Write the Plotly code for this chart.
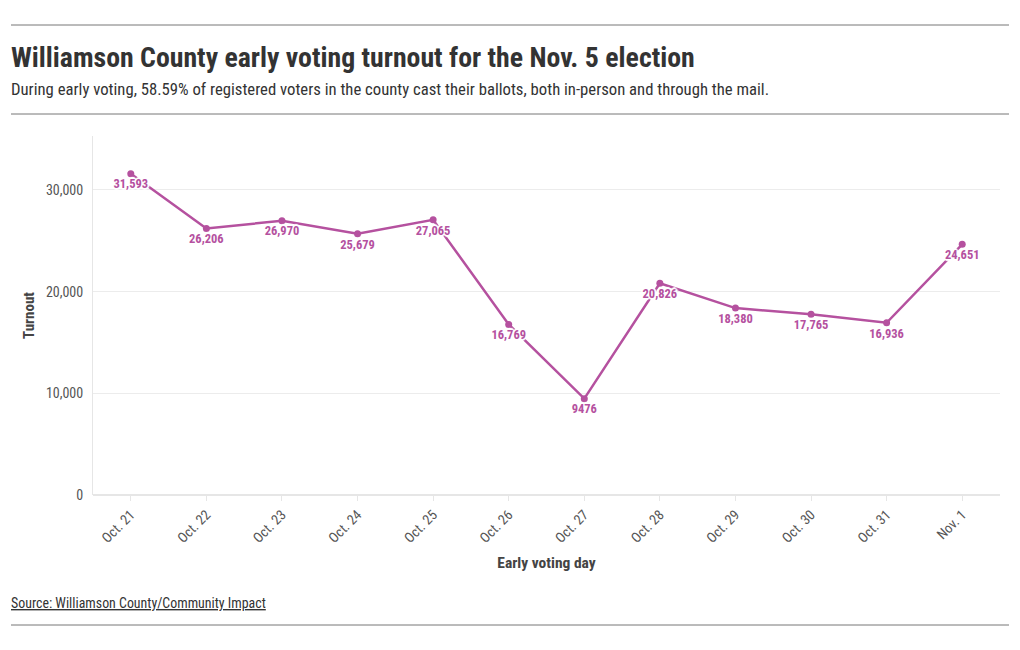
import plotly.graph_objects as go

days = ["Oct. 21", "Oct. 22", "Oct. 23", "Oct. 24", "Oct. 25", "Oct. 26",
        "Oct. 27", "Oct. 28", "Oct. 29", "Oct. 30", "Oct. 31", "Nov. 1"]
turnout = [31593, 26206, 26970, 25679, 27065, 16769, 9476, 20826, 18380, 17765, 16936, 24651]
labels = ["31,593", "26,206", "26,970", "25,679", "27,065", "16,769", "9476",
          "20,826", "18,380", "17,765", "16,936", "24,651"]
y_ticks = [0, 10000, 20000, 30000]
y_tick_labels = ["0", "10,000", "20,000", "30,000"]

COND = "Roboto Condensed, Liberation Sans Narrow, DejaVu Sans Condensed, Roboto, sans-serif"
LINE = "#b5519f"
halo = ("1px 1px 1px white, -1px -1px 1px white, 1px -1px 1px white, -1px 1px 1px white, "
        "0 2px 1px white, 0 -2px 1px white, 2px 0 1px white, -2px 0 1px white")

fig = go.Figure()
fig.add_trace(go.Scatter(
    x=list(range(len(days))), y=turnout,
    mode="lines+markers+text",
    line=dict(color=LINE, width=2.5),
    marker=dict(color=LINE, size=7),
    text=labels, textposition="bottom center",
    textfont=dict(family=COND, size=12.5, color=LINE, weight="bold", shadow=halo),
    hoverinfo="skip", showlegend=False, cliponaxis=False,
))

fig.update_layout(
    width=1020, height=650,
    margin=dict(l=93, r=20, t=136, b=155),
    paper_bgcolor="white", plot_bgcolor="white",
    font=dict(family=COND, color="#333"),
    xaxis=dict(
        range=[-0.5, 11.5],
        tickmode="array", tickvals=list(range(len(days))), ticktext=days,
        tickangle=-45, tickfont=dict(size=14, color="#555"),
        showgrid=False, showline=False, zeroline=False,
        ticks="outside", ticklen=5, tickcolor="#e6e6e6",
        title=dict(text="Early voting day", font=dict(size=15.5, color="#444", weight="bold"), standoff=12),
    ),
    yaxis=dict(
        range=[0, 35300],
        tickmode="array", tickvals=y_ticks, ticktext=y_tick_labels,
        tickfont=dict(size=14, color="#555"),
        showgrid=True, gridcolor="#ececec", gridwidth=1,
        zeroline=True, zerolinecolor="#e6e6e6",
        showline=True, linecolor="#e6e6e6", linewidth=1,
        ticks="", ticklabelstandoff=6,
        title=dict(text="Turnout", font=dict(size=15, color="#444", weight="bold"), standoff=7),
    ),
)

def py(ypix):
    return (495 - ypix) / 359.0
def px(xpix):
    return (xpix - 93) / 907.0

for yy in [25, 114, 625]:
    fig.add_shape(type="line", xref="paper", yref="paper",
                  x0=px(11), x1=px(1009), y0=py(yy), y1=py(yy),
                  line=dict(color="#777", width=1))

fig.add_annotation(xref="paper", yref="paper", x=px(9), y=py(57), xanchor="left", yanchor="middle",
                   text="<b>Williamson County early voting turnout for the Nov. 5 election</b>",
                   showarrow=False, font=dict(family=COND, size=27.8, color="#333"))
fig.add_annotation(xref="paper", yref="paper", x=px(9), y=py(90), xanchor="left", yanchor="middle",
                   text="During early voting, 58.59% of registered voters in the county cast their ballots, both in-person and through the mail.",
                   showarrow=False, font=dict(family=COND, size=16.7, color="#333"))
fig.add_annotation(xref="paper", yref="paper", x=px(9), y=py(603), xanchor="left", yanchor="middle",
                   text="<u>Source: Williamson County/Community Impact</u>",
                   showarrow=False, font=dict(family=COND, size=13.9, color="#333"))

fig.write_html("out.html", config={"displayModeBar": False},
               post_script="document.body.style.margin='0';")
